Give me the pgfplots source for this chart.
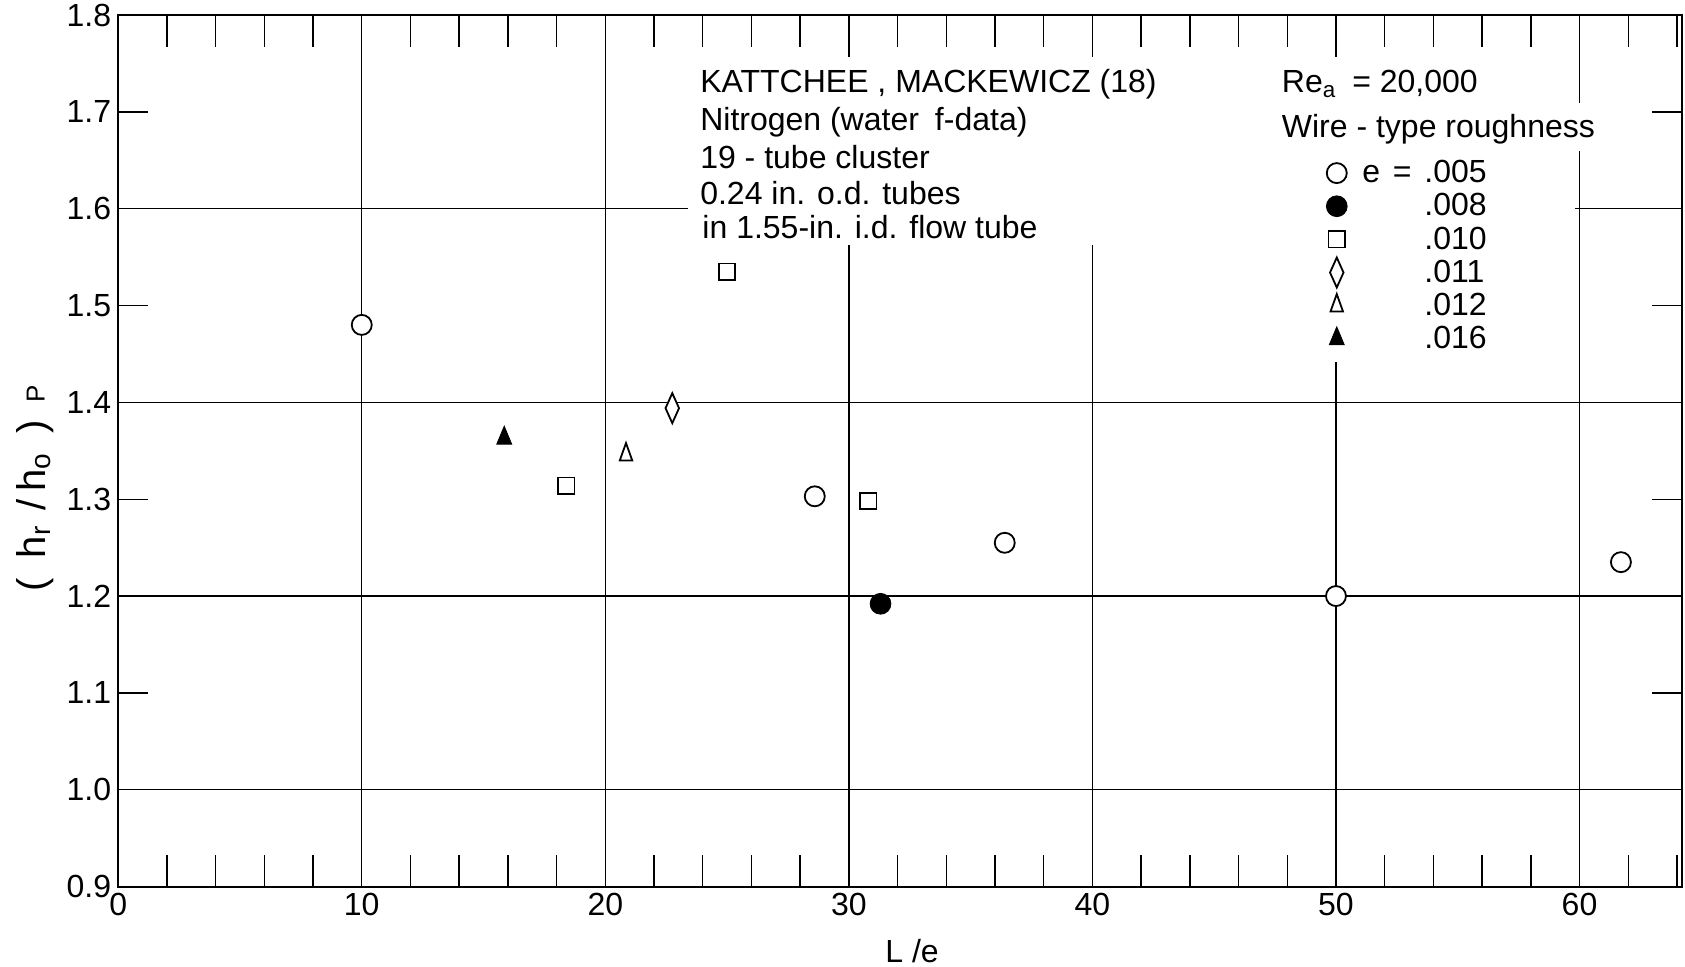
\documentclass[border=0pt]{standalone}
\usepackage{fontspec}
\setmainfont{Liberation Sans}
\usepackage{pgfplots}
\pgfplotsset{compat=1.18}
\newcommand{\lsub}[1]{\raisebox{-2.5pt}{\fontsize{14}{14}\selectfont #1}}
\begin{document}
\begin{tikzpicture}[font=\fontsize{16}{18.3}\selectfont]
\begin{axis}[
  scale only axis, width=781.8pt, height=435.8pt,
  xmin=0, xmax=64.2, ymin=0.9, ymax=1.8,
  axis line style={line width=1pt},
  tick align=inside,
  xtick={0,10,20,30,40,50,60}, xticklabels={0,10,20,30,40,50,60},
  minor xtick={2,4,...,64},
  ytick={0.9,1,1.1,1.2,1.3,1.4,1.5,1.6,1.7,1.8},
  yticklabels={0.9,1.0,1.1,1.2,1.3,1.4,1.5,1.6,1.7,1.8},
  major tick length=15pt, minor tick length=16pt,
  every tick/.style={line width=0.7pt, black},
  extra x ticks={10,20,30,40,50,60}, extra x tick labels={},
  extra x tick style={grid=major},
  extra y ticks={1,1.2,1.4,1.6}, extra y tick labels={},
  extra y tick style={grid=major},
  grid style={line width=0.7pt, black},
  xlabel={L /e},
  xlabel style={at={(axis description cs:0.5077,-0.0739)}, anchor=center},
  ylabel={\fontsize{20}{22}\selectfont (\hspace{0.5em}h\lsub{r}\hspace{0.4em}/\hspace{0.2em}h\lsub{o}\hspace{0.5em})\hspace{0.45em}\raisebox{0.5pt}{\fontsize{13}{14}\selectfont P}},
  ylabel style={at={(axis description cs:-0.0530,0.457)}, anchor=center},
  legend style={at={(axis cs:50,1.6585)}, anchor=north west, xshift=-8pt,
    draw=none, fill=white, font=\fontsize{16}{18.3}\selectfont,
    cells={anchor=west}, row sep=-0.1pt,
    /tikz/every odd column/.append style={column sep=5.6pt}},
]
% white area behind the captions
\fill[white] (axis cs:23.4,1.757) rectangle (axis cs:59.8,1.5625);
\fill[white] (axis cs:59.5,1.709) rectangle (axis cs:60.5,1.660);
\fill[white] (axis cs:49.5,1.57) rectangle (axis cs:50.5,1.442);

\addplot[only marks, mark=*, mark size=5pt, line width=0.9pt,
  mark options={draw=black, fill=white}]
  coordinates {(10,1.480) (28.6,1.303) (36.4,1.255) (50,1.2) (61.7,1.235)};
\addlegendentry{e\hspace{0.4em}=\hspace{0.4em}.005}
\addplot[only marks, mark=*, mark size=5.2pt,
  mark options={draw=black, fill=black}]
  coordinates {(31.3,1.192)};
\addlegendentry{\phantom{e\hspace{0.4em}=\hspace{0.4em}}.008}
\addplot[only marks, mark=square*, mark size=4.1pt, line width=0.9pt,
  mark options={draw=black, fill=white}]
  coordinates {(25,1.535) (18.4,1.314) (30.8,1.298)};
\addlegendentry{\phantom{e\hspace{0.4em}=\hspace{0.4em}}.010}
\addplot[only marks, mark=diamond*, mark size=7.5pt, line width=0.9pt,
  mark options={draw=black, fill=white, xscale=0.6}]
  coordinates {(22.75,1.394)};
\addlegendentry{\phantom{e\hspace{0.4em}=\hspace{0.4em}}.011}
\addplot[only marks, mark=triangle*, mark size=5.8pt, line width=0.9pt,
  mark options={draw=black, fill=white, xscale=0.62}]
  coordinates {(20.85,1.346)};
\addlegendentry{\phantom{e\hspace{0.4em}=\hspace{0.4em}}.012}
\addplot[only marks, mark=triangle*, mark size=6pt,
  mark options={draw=black, fill=black, xscale=0.72}]
  coordinates {(15.85,1.363)};
\addlegendentry{\phantom{e\hspace{0.4em}=\hspace{0.4em}}.016}

\node[anchor=base west] at (axis cs:23.61,1.720) {KATTCHEE , MACKEWICZ (18)};
\node[anchor=base west] at (axis cs:23.61,1.681) {Nitrogen (water\enspace f-data)};
\node[anchor=base west] at (axis cs:23.61,1.642) {19 - tube cluster};
\node[anchor=base west] at (axis cs:23.61,1.604) {0.24 in. o.d. tubes};
\node[anchor=base west] at (axis cs:23.70,1.569) {in 1.55-in. i.d. flow tube};
\node[anchor=base west] at (axis cs:47.49,1.720) {Re\textsubscript{a}\enspace = 20,000};
\node[anchor=base west] at (axis cs:47.49,1.674) {Wire - type roughness};
\end{axis}
\pgfresetboundingbox
\path[use as bounding box] ([shift={(-59.1pt,-40.2pt)}]current axis.south west)
  rectangle ([shift={(1.6pt,7.5pt)}]current axis.north east);
\end{tikzpicture}
\end{document}
